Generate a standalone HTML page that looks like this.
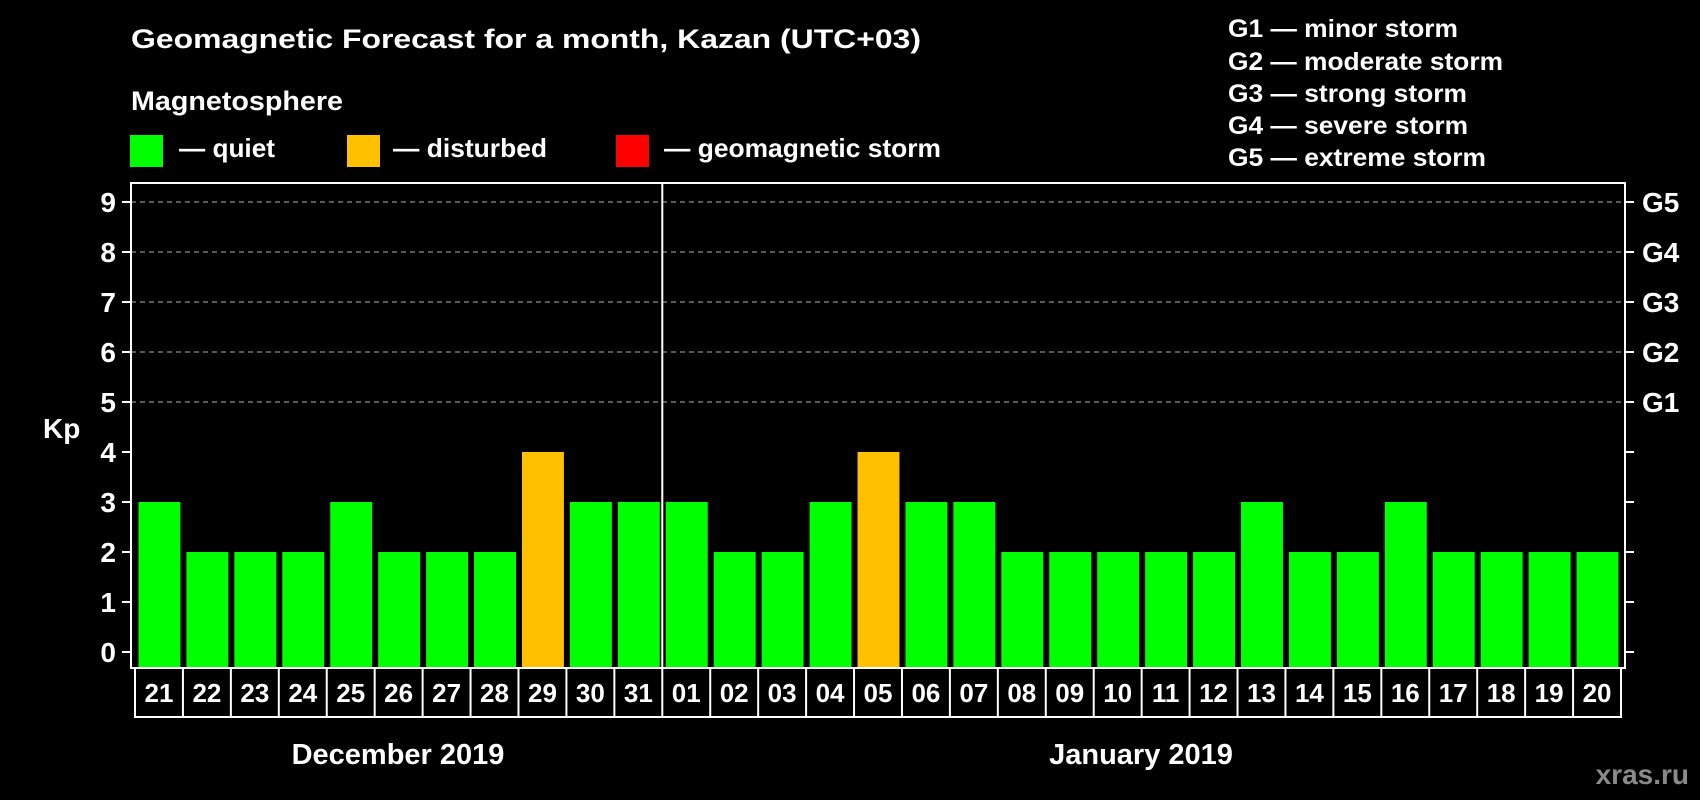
<!DOCTYPE html>
<html><head><meta charset="utf-8"><style>
html,body{margin:0;padding:0;background:#000;}
svg{display:block;font-family:"Liberation Sans",Arial,sans-serif;font-weight:bold;}
</style></head><body>
<svg id="c" width="1700" height="800" viewBox="0 0 1700 800" xmlns="http://www.w3.org/2000/svg">
<rect x="0" y="0" width="1700" height="800" fill="#000"/>
<text x="131" y="48" fill="#fff" font-size="27" textLength="790" lengthAdjust="spacingAndGlyphs">Geomagnetic Forecast for a month, Kazan (UTC+03)</text>
<text x="131" y="110" fill="#fff" font-size="27" textLength="212" lengthAdjust="spacingAndGlyphs">Magnetosphere</text>
<rect x="130" y="135" width="33" height="32" fill="#00ff00"/>
<text x="179" y="157" fill="#fff" font-size="26" textLength="96" lengthAdjust="spacingAndGlyphs">— quiet</text>
<rect x="347" y="135" width="33" height="32" fill="#ffc000"/>
<text x="393" y="157" fill="#fff" font-size="26" textLength="154" lengthAdjust="spacingAndGlyphs">— disturbed</text>
<rect x="616" y="135" width="33" height="32" fill="#ff0000"/>
<text x="664" y="157" fill="#fff" font-size="26" textLength="277" lengthAdjust="spacingAndGlyphs">— geomagnetic storm</text>
<g fill="#fff" font-size="25">
<text x="1228" y="37" textLength="230" lengthAdjust="spacingAndGlyphs">G1 — minor storm</text>
<text x="1228" y="70" textLength="275" lengthAdjust="spacingAndGlyphs">G2 — moderate storm</text>
<text x="1228" y="102" textLength="239" lengthAdjust="spacingAndGlyphs">G3 — strong storm</text>
<text x="1228" y="134" textLength="240" lengthAdjust="spacingAndGlyphs">G4 — severe storm</text>
<text x="1228" y="166" textLength="258" lengthAdjust="spacingAndGlyphs">G5 — extreme storm</text>
</g>
<text x="43" y="438" fill="#fff" font-size="28">Kp</text>
<text x="398" y="764" fill="#fff" font-size="29" text-anchor="middle">December 2019</text>
<text x="1141" y="764" fill="#fff" font-size="29" text-anchor="middle">January 2019</text>
<text x="1689" y="784" fill="#8a8a8a" font-size="28" text-anchor="end">xras.ru</text>
<g id="plot"></g>
</svg>
<script>
const days = ["21","22","23","24","25","26","27","28","29","30","31","01","02","03","04","05","06","07","08","09","10","11","12","13","14","15","16","17","18","19","20"];
const kp = [3,2,2,2,3,2,2,2,4,3,3,3,2,2,3,4,3,3,2,2,2,2,2,3,2,2,3,2,2,2,2];
const yTicks = [0,1,2,3,4,5,6,7,8,9];
const gLabels = ["G1","G2","G3","G4","G5"];
const gLevels = [5,6,7,8,9];
const monthSplitIndex = 11;

const NS = "http://www.w3.org/2000/svg";
const g = document.getElementById('plot');
const L = 131, R = 1625, T = 183, B = 668;
const x0 = 135, pitch = (1621 - 135) / days.length;
const y = v => 652 - v * 50;
const xs = i => x0 + i * pitch;
function mk(tag, attrs) { const e = document.createElementNS(NS, tag); for (const k in attrs) e.setAttribute(k, attrs[k]); g.appendChild(e); return e; }

gLevels.forEach(v => {
  const l = mk('line', {x1: L, x2: R, y1: y(v), y2: y(v), stroke: '#8c8c8c', 'stroke-width': 1.3, 'stroke-dasharray': '5,4'});
  
  
});
kp.forEach((v, i) => {
  const col = v >= 5 ? '#ff0000' : (v >= 4 ? '#ffc000' : '#00ff00');
  const r = mk('rect', {x: xs(i) + 3.5, y: y(v), width: pitch - 6, height: y(0) - y(v) + 16, fill: col});
  
  
});
const frame = mk('rect', {x: L, y: T, width: R - L, height: B - T, fill: 'none', stroke: '#fff', 'stroke-width': 2});


const sx = xs(monthSplitIndex);
const sep = mk('line', {x1: sx, x2: sx, y1: T, y2: B, stroke: '#fff', 'stroke-width': 2});


yTicks.forEach(v => {
  const t1 = mk('line', {x1: 122, x2: L, y1: y(v), y2: y(v), stroke: '#fff', 'stroke-width': 2});
  
  
  const t2 = mk('line', {x1: R, x2: 1634, y1: y(v), y2: y(v), stroke: '#fff', 'stroke-width': 2});
  
  
  const tx = mk('text', {x: 116, y: y(v) + 10, fill: '#fff', 'font-size': 28, 'text-anchor': 'end'});
  tx.textContent = v;
  
  
});
gLabels.forEach((lab, i) => {
  const tx = mk('text', {x: 1642, y: y(gLevels[i]) + 10, fill: '#fff', 'font-size': 28});
  tx.textContent = lab;
  
  
});
const row = mk('rect', {x: x0, y: B, width: pitch * days.length, height: 49, fill: 'none', stroke: '#fff', 'stroke-width': 2});


days.forEach((d, i) => {
  if (i > 0) {
    const dl = mk('line', {x1: xs(i), x2: xs(i), y1: B, y2: B + 49, stroke: '#fff', 'stroke-width': 2});
    
    
  }
  const tx = mk('text', {x: xs(i) + pitch / 2, y: 702, fill: '#fff', 'font-size': 26, 'text-anchor': 'middle'});
  tx.textContent = d;
  
  
});
</script>
</body></html>
